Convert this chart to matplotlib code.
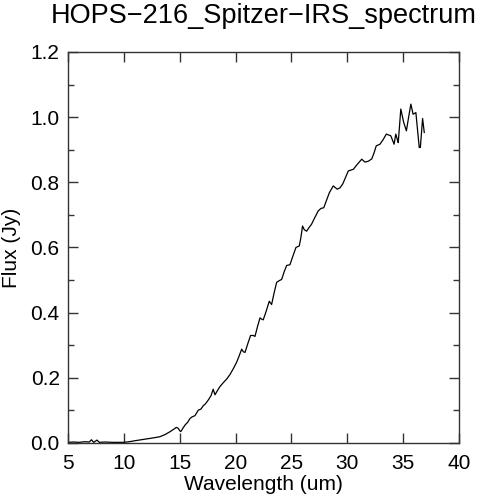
import matplotlib
matplotlib.use("Agg")
import matplotlib.pyplot as plt
from matplotlib.ticker import MultipleLocator, FormatStrFormatter

plt.rcParams['font.family'] = ['Liberation Sans', 'DejaVu Sans']

# values
wavelength = [5.0, 5.5, 6.0, 6.5, 6.9, 7.1, 7.3, 7.6, 7.8, 8.3, 9.0, 9.5, 10.0,
              10.5, 11.0, 11.75, 12.5, 13.2, 13.7, 14.1, 14.5, 14.7, 14.87, 15.0,
              15.1, 15.3, 15.5, 15.7, 15.92, 16.1, 16.37, 16.67, 16.9, 17.1, 17.3,
              17.56, 17.8, 18.0, 18.16, 18.4, 18.6, 18.9, 19.2, 19.5, 19.8, 20.1,
              20.3, 20.55, 20.7, 20.85, 21.1, 21.35, 21.6, 21.74, 21.95, 22.19,
              22.35, 22.48, 22.75, 23.02, 23.23, 23.45, 23.68, 23.9, 24.13, 24.35,
              24.58, 24.87, 25.1, 25.41, 25.71, 25.85, 26.0, 26.15, 26.36, 26.6,
              26.8, 27.1, 27.4, 27.65, 27.9, 28.15, 28.4, 28.75, 29.1, 29.35, 29.6,
              29.85, 30.1, 30.55, 30.9, 31.3, 31.6, 31.9, 32.2, 32.4, 32.6, 32.93,
              33.2, 33.5, 33.9, 34.2, 34.35, 34.5, 34.57, 34.8, 35.05, 35.3, 35.5,
              35.7, 35.9, 36.15, 36.3, 36.45, 36.55, 36.75, 36.9]
flux = [0.002, 0.003, 0.002, 0.004, 0.003, 0.010, 0.002, 0.009, 0.002, 0.003,
        0.002, 0.002, 0.002, 0.004, 0.007, 0.011, 0.015, 0.019, 0.026, 0.034,
        0.043, 0.048, 0.045, 0.038, 0.035, 0.046, 0.056, 0.063, 0.075, 0.080,
        0.084, 0.101, 0.104, 0.114, 0.120, 0.132, 0.145, 0.165, 0.148, 0.162,
        0.173, 0.185, 0.196, 0.210, 0.228, 0.248, 0.265, 0.288, 0.280, 0.278,
        0.305, 0.330, 0.330, 0.327, 0.355, 0.384, 0.380, 0.378, 0.405, 0.435,
        0.425, 0.460, 0.493, 0.498, 0.502, 0.525, 0.545, 0.547, 0.570, 0.600,
        0.605, 0.630, 0.666, 0.655, 0.650, 0.662, 0.671, 0.692, 0.712, 0.720,
        0.722, 0.745, 0.768, 0.789, 0.779, 0.783, 0.795, 0.815, 0.835, 0.840,
        0.855, 0.871, 0.862, 0.865, 0.872, 0.890, 0.912, 0.917, 0.930, 0.948,
        0.943, 0.917, 0.948, 0.930, 0.922, 1.025, 0.985, 0.958, 1.000, 1.040,
        1.009, 1.014, 0.960, 0.907, 0.907, 0.996, 0.953]

fig = plt.figure(figsize=(4.79, 5.0), dpi=100)
ax = fig.add_axes([0.142, 0.114, 0.816, 0.782])

ax.plot(wavelength, flux, color='black', linewidth=0.9)

ax.set_xlim(5, 40)
ax.set_ylim(0, 1.2)
ax.xaxis.set_major_locator(MultipleLocator(5))
ax.yaxis.set_major_locator(MultipleLocator(0.2))
ax.yaxis.set_minor_locator(MultipleLocator(0.1))
ax.yaxis.set_major_formatter(FormatStrFormatter('%.1f'))
ax.tick_params(which='both', direction='in', top=True, right=True,
               labelsize=15, color='#333333')
ax.tick_params(axis='x', pad=8)
ax.tick_params(axis='y', pad=6)
ax.tick_params(which='major', length=7, width=1)
ax.tick_params(which='minor', length=4, width=1)
for sp in ax.spines.values():
    sp.set_linewidth(1)
    sp.set_color('#333333')

ax.set_xlabel('Wavelength (um)', fontsize=15, labelpad=1)
ax.set_ylabel('Flux (Jy)', fontsize=15, labelpad=7)
ax.set_title('HOPS\u2212216_Spitzer\u2212IRS_spectrum', fontsize=19.5, pad=21)

fig.savefig('out.png', dpi=100)
